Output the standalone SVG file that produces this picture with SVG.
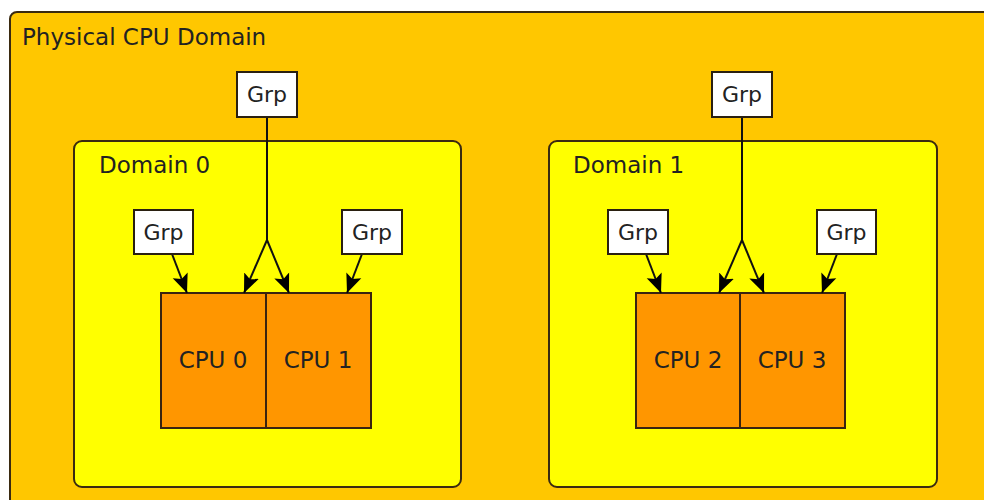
<svg xmlns="http://www.w3.org/2000/svg" width="984" height="500" viewBox="0 0 984 500">
<defs>
<style>
text{font-family:"DejaVu Sans","Liberation Sans",sans-serif;fill:#222;}
.lbl{font-size:23px;}
.grp rect{fill:#fff;stroke:#2a2010;stroke-width:2;}
.grp text{font-size:22px;text-anchor:middle;}
.cpu rect{fill:#FF9600;stroke:#3a2410;stroke-width:2;}
.cpu text{font-size:23px;text-anchor:middle;}
.dom{fill:#FFFF00;stroke:#3a2a10;stroke-width:2;}
.edge{fill:none;stroke:#111;stroke-width:2;}
.arr{marker-end:url(#ah);}
</style>
<marker id="ah" markerUnits="userSpaceOnUse" viewBox="0 -9 20 18" refX="19" refY="0" markerWidth="20" markerHeight="18" orient="auto">
<path d="M0,-8 L19,0 L0,8 L4,0 z" fill="#000"/>
</marker>
</defs>
<rect width="984" height="500" fill="#fff"/>
<g id="physical">
<rect x="10" y="12" width="1000" height="520" rx="7" fill="#FFC700" stroke="#3a2a10" stroke-width="2"/>
<text class="lbl" x="22" y="45">Physical CPU Domain</text>
</g>
<g id="domain0">
<rect class="dom" x="74" y="141" width="387" height="346" rx="8"/>
<text class="lbl" x="99" y="173">Domain 0</text>
</g>
<g id="domain1">
<rect class="dom" x="549" y="141" width="388" height="346" rx="8"/>
<text class="lbl" x="573" y="173">Domain 1</text>
</g>
<g id="cpu0" class="cpu"><rect x="161" y="293" width="105" height="135"/><text x="213" y="368">CPU 0</text></g>
<g id="cpu1" class="cpu"><rect x="266" y="293" width="105" height="135"/><text x="318" y="368">CPU 1</text></g>
<g id="cpu2" class="cpu"><rect x="636" y="293" width="104" height="135"/><text x="688" y="368">CPU 2</text></g>
<g id="cpu3" class="cpu"><rect x="740" y="293" width="105" height="135"/><text x="792" y="368">CPU 3</text></g>
<g id="connectors">
<line class="edge" x1="267" y1="117" x2="267" y2="241"/>
<line class="edge arr" x1="267" y1="240" x2="244" y2="293"/>
<line class="edge arr" x1="267" y1="240" x2="289" y2="293"/>
<line class="edge arr" x1="172" y1="254" x2="187" y2="293"/>
<line class="edge arr" x1="362" y1="254" x2="347" y2="293"/>
<line class="edge" x1="742" y1="117" x2="742" y2="241"/>
<line class="edge arr" x1="742" y1="240" x2="719" y2="293"/>
<line class="edge arr" x1="742" y1="240" x2="764" y2="293"/>
<line class="edge arr" x1="646" y1="254" x2="661" y2="293"/>
<line class="edge arr" x1="837" y1="254" x2="822" y2="293"/>
</g>
<g id="grp-top0" class="grp"><rect x="237" y="72" width="60" height="45"/><text x="267" y="102">Grp</text></g>
<g id="grp-top1" class="grp"><rect x="712" y="72" width="60" height="45"/><text x="742" y="102">Grp</text></g>
<g id="grp-d0-left" class="grp"><rect x="134" y="210" width="59" height="44"/><text x="163.5" y="240">Grp</text></g>
<g id="grp-d0-right" class="grp"><rect x="342" y="210" width="60" height="44"/><text x="372" y="240">Grp</text></g>
<g id="grp-d1-left" class="grp"><rect x="608" y="210" width="60" height="44"/><text x="638" y="240">Grp</text></g>
<g id="grp-d1-right" class="grp"><rect x="817" y="210" width="59" height="44"/><text x="846.5" y="240">Grp</text></g>
</svg>
